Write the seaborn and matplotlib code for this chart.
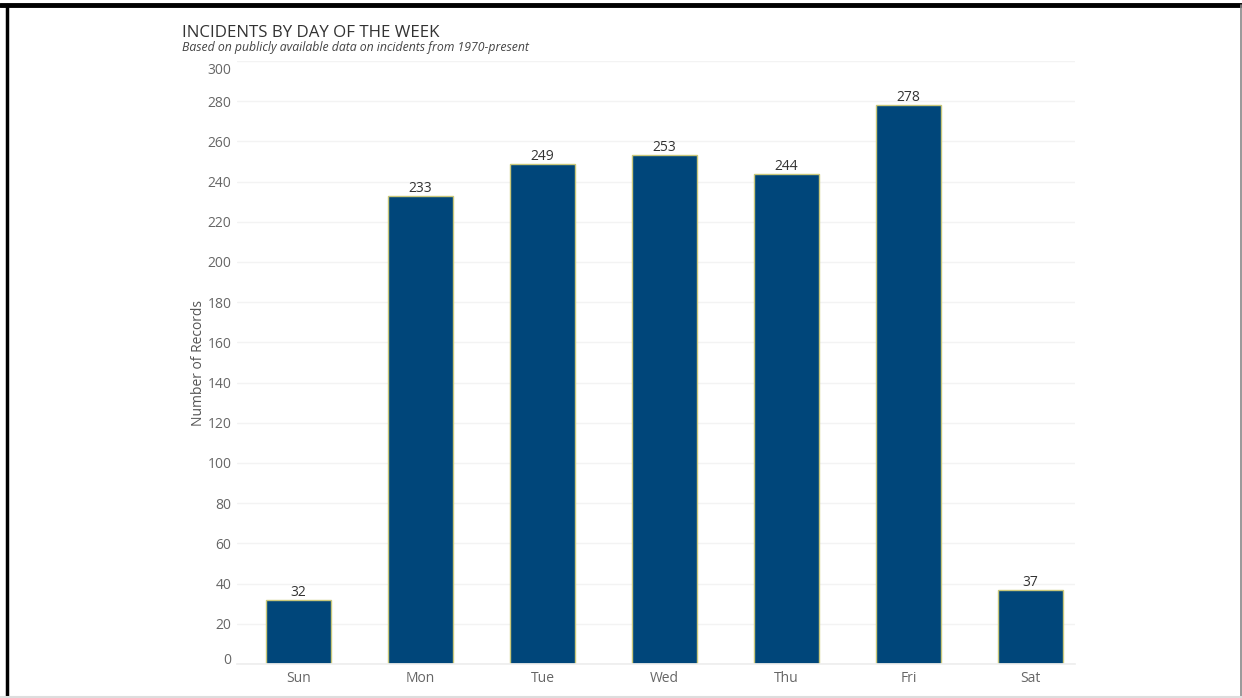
import matplotlib
matplotlib.use("Agg")
import matplotlib.pyplot as plt
import matplotlib.transforms as mtransforms
import seaborn as sns
import pandas as pd
from matplotlib.lines import Line2D

days = ["Sun", "Mon", "Tue", "Wed", "Thu", "Fri", "Sat"]
records = [32, 233, 249, 253, 244, 278, 37]
yticks = list(range(0, 301, 20))

sns.set_theme(style="white")
plt.rcParams["font.family"] = ["Open Sans", "DejaVu Sans"]

df = pd.DataFrame({"day": days, "records": records})

W, H = 1242, 698
fig = plt.figure(figsize=(W / 100, H / 100), dpi=100)
left, right, top, bottom = 237, 1075, 61, 664
ax = fig.add_axes([left / W, 1 - bottom / H, (right - left) / W, (bottom - top) / H])

sns.barplot(data=df, x="day", y="records", ax=ax, color="#00467a",
            saturation=1, width=0.53, edgecolor="#c9c77a", linewidth=1.0)

for i, v in enumerate(records):
    ax.text(i, v, str(v), ha="center", va="bottom", fontsize=10,
            color="#333333", linespacing=1.0)

ax.set_ylim(0, 300)
ax.set_xlim(-0.504, 6.365)
ax.set_yticks(yticks)
ax.set_yticklabels([str(t) for t in yticks])
ax.yaxis.grid(True, color="#f3f3f3", linewidth=1)
ax.set_axisbelow(True)
for s in ["top", "right", "left"]:
    ax.spines[s].set_visible(False)
ax.spines["bottom"].set_color("#eeeeee")
ax.tick_params(axis="both", length=0, labelsize=10, labelcolor="#666666")
ax.tick_params(axis="y", pad=4)
ax.tick_params(axis="x", pad=5)
ax.set_xlabel("")
ax.set_ylabel("Number of Records", fontsize=10, color="#555555", labelpad=1)

# nudge the extreme tick labels inward like the original
labels = ax.get_yticklabels()
labels[0].set_transform(labels[0].get_transform() +
                        mtransforms.ScaledTranslation(0, 6 / 100, fig.dpi_scale_trans))
labels[-1].set_transform(labels[-1].get_transform() +
                         mtransforms.ScaledTranslation(0, -8 / 100, fig.dpi_scale_trans))

fig.text(182 / W, 1 - 33 / H, "INCIDENTS BY DAY OF THE WEEK", fontsize=12.2,
         color="#333333", ha="left", va="center")
fig.text(182 / W, 1 - 47.5 / H,
         "Based on publicly available data on incidents from 1970-present",
         fontsize=8.8, style="italic", color="#444444", ha="left", va="center")

# frame around the picture
fig.add_artist(Line2D([0, 1], [1 - 4.5 / H, 1 - 4.5 / H], transform=fig.transFigure,
                      color="black", linewidth=3.5))
fig.add_artist(Line2D([6.5 / W, 6.5 / W], [0, 1 - 4.5 / H], transform=fig.transFigure,
                      color="black", linewidth=2.5))
fig.add_artist(Line2D([1240.5 / W, 1240.5 / W], [0, 1 - 4.5 / H], transform=fig.transFigure,
                      color="#888888", linewidth=1.2))
fig.add_artist(Line2D([0, 1], [1.2 / H, 1.2 / H], transform=fig.transFigure,
                      color="#dddddd", linewidth=1.5))

fig.savefig("out.png", dpi=100, facecolor="white")
